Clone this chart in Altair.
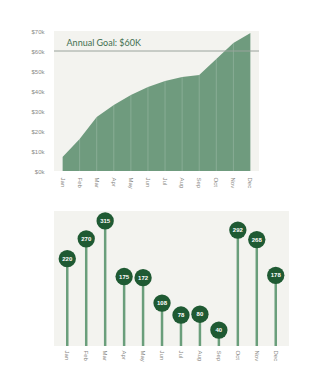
import altair as alt
import pandas as pd

months = ["Jan", "Feb", "Mar", "Apr", "May", "Jun", "Jul", "Aug", "Sep", "Oct", "Nov", "Dec"]
revenue_k = [7, 16, 27, 33, 38, 42, 45, 47, 48, 56, 64, 69]
sales = [220, 270, 315, 175, 172, 108, 78, 80, 40, 292, 268, 178]
goal_k = 60
goal_label = "Annual Goal: $60K"
y_ticks = [0, 10, 20, 30, 40, 50, 60, 70]

df_top = pd.DataFrame({"month": months, "value": revenue_k, "zero": [0] * len(months)})
df_bot = pd.DataFrame({"month": months, "sales": sales, "zero": [0] * len(months)})
df_goal = pd.DataFrame({"month": [months[0]], "goal": [goal_k], "label": [goal_label]})

x_axis = alt.Axis(labelAngle=90, labelFontSize=6, labelColor="#8a8a86",
                  ticks=False, domain=False, grid=False, labelPadding=6)
x_top = alt.X("month:N", sort=months, title=None, scale=alt.Scale(padding=0), axis=x_axis)
y_axis = alt.Axis(values=y_ticks, labelExpr="'$' + datum.value + 'k'",
                  labelFontSize=6, labelColor="#8a8a86", ticks=False,
                  labelOverlap=False, domain=False, grid=False, labelPadding=10)
y_scale = alt.Scale(domain=[0, 70], nice=False)

area = alt.Chart(df_top).mark_area(color="#6f9b7e").encode(
    x=x_top, y=alt.Y("value:Q", title=None, scale=y_scale, axis=y_axis))
grid = alt.Chart(df_top).mark_rule(color="#ffffff", opacity=0.18, strokeWidth=1).encode(
    x=x_top, y=alt.Y("value:Q", title=None, scale=y_scale, axis=y_axis), y2="zero:Q")
goal_rule = alt.Chart(df_goal).mark_rule(color="#9aa39c", strokeWidth=1).encode(
    y=alt.Y("goal:Q", title=None, scale=y_scale, axis=y_axis))
goal_text = alt.Chart(df_goal).mark_text(align="left", baseline="bottom", dy=-3, dx=4,
                                         color="#3f6f4f", fontSize=9, font="Lato").encode(
    x=x_top, y=alt.Y("goal:Q", title=None, scale=y_scale, axis=y_axis), text="label:N")

top = alt.layer(area, grid, goal_rule, goal_text).properties(width=205, height=140)

x_bot = alt.X("month:N", sort=months, title=None,
              scale=alt.Scale(paddingInner=0.2, paddingOuter=0.3),
              axis=alt.Axis(labelAngle=90, labelFontSize=6, labelColor="#8a8a86",
                            ticks=False, domain=False, grid=False, labelPadding=4))
y_bot = alt.Y("sales:Q", title=None, scale=alt.Scale(domain=[0, 340], nice=False), axis=None)

stems = alt.Chart(df_bot).mark_rule(color="#6a9e7b", strokeWidth=2.5).encode(
    x=x_bot, y=y_bot, y2="zero:Q")
dots = alt.Chart(df_bot).mark_circle(color="#1f5a33", size=300, opacity=1).encode(
    x=x_bot, y=y_bot)
labels = alt.Chart(df_bot).mark_text(color="#ffffff", fontSize=6, fontWeight="bold").encode(
    x=x_bot, y=y_bot, text="sales:Q")

bottom = alt.layer(stems, dots, labels).properties(width=235, height=135)

chart = alt.vconcat(top, bottom, spacing=22).properties(
    padding={"left": 22, "top": 20, "right": 5, "bottom": 5},
    background="#ffffff"
).configure_view(fill="#f3f3ef", stroke=None)

chart.save("out.html", embed_options={"renderer": "svg", "actions": False})
